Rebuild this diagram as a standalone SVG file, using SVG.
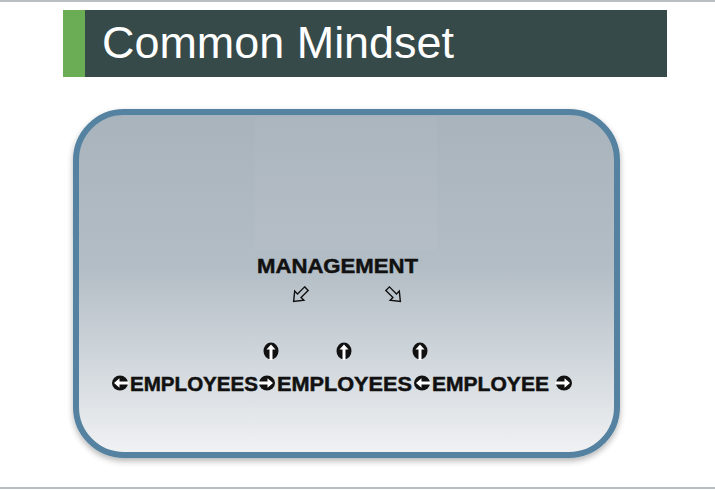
<svg xmlns="http://www.w3.org/2000/svg" width="715" height="490" viewBox="0 0 715 490">
<style>
.t{font-family:"Liberation Sans",Arial,sans-serif;font-weight:bold;fill:#111;stroke:#111;stroke-width:0.5}
.out{fill:none;stroke:#111;stroke-width:1.4;stroke-linejoin:miter}
</style>
<defs>
<linearGradient id="bg" x1="0" y1="0" x2="0" y2="1">
<stop offset="0" stop-color="#a8b3bc"/>
<stop offset="0.45" stop-color="#b3bdc5"/>
<stop offset="0.75" stop-color="#d3d9de"/>
<stop offset="1" stop-color="#f1f2f4"/>
</linearGradient>
<filter id="sh" x="-10%" y="-10%" width="120%" height="125%">
<feGaussianBlur in="SourceAlpha" stdDeviation="3"/>
<feOffset dx="0" dy="3"/>
<feComponentTransfer><feFuncA type="linear" slope="0.3"/></feComponentTransfer>
<feMerge><feMergeNode/><feMergeNode in="SourceGraphic"/></feMerge>
</filter>
<g id="cl">
<ellipse rx="8" ry="7.5" fill="#111"/>
<polygon points="-6,0 -0.5,-4.8 -0.5,-1.6 8.5,-1.6 8.5,1.6 -0.5,1.6 -0.5,4.8" fill="#fff"/>
</g>
<g id="cu">
<ellipse rx="7.5" ry="8.5" fill="#111"/>
<polygon points="0,-6.5 4.5,-1.5 1.5,-1.5 1.5,9 -1.5,9 -1.5,-1.5 -4.5,-1.5" fill="#fff"/>
</g>
<polygon id="da" class="out" points="-2.5,-9 2.5,-9 2.5,1 6.5,1 0,9 -6.5,1 -2.5,1"/>
</defs>
<rect width="715" height="490" fill="#fff"/>
<rect x="0" y="0" width="715" height="2" fill="#b9bec3"/>
<rect x="0" y="487" width="715" height="2" fill="#b9bec3"/>
<g id="title">
<rect x="63" y="10" width="22" height="67" fill="#6aad55"/>
<rect x="85" y="10" width="582" height="67" fill="#364a4a"/>
<text x="102" y="58" font-family="Liberation Sans, Arial, sans-serif" font-size="44" fill="#fff" textLength="352" lengthAdjust="spacingAndGlyphs">Common Mindset</text>
</g>
<g id="panel">
<rect x="76" y="112" width="541" height="343" rx="48" fill="url(#bg)" stroke="#5482a0" stroke-width="6" filter="url(#sh)"/>
<rect x="255" y="117" width="182" height="133" fill="#fff" opacity="0.04"/>
</g>
<g id="management">
<text class="t" x="257" y="273" font-size="21" textLength="161" lengthAdjust="spacingAndGlyphs">MANAGEMENT</text>
</g>
<g id="connectors">
<use href="#da" transform="translate(300,295) rotate(45)"/>
<use href="#da" transform="translate(394,295) rotate(-45)"/>
<use href="#cu" x="271" y="351"/>
<use href="#cu" x="344" y="351"/>
<use href="#cu" x="420" y="351"/>
<use href="#cl" transform="translate(120,383)"/>
<use href="#cl" transform="translate(267,383) scale(-1,1)"/>
<use href="#cl" transform="translate(422,383)"/>
<use href="#cl" transform="translate(564,383) scale(-1,1)"/>
</g>
<g id="employees1"><text class="t" x="130" y="391" font-size="21" textLength="128" lengthAdjust="spacingAndGlyphs">EMPLOYEES</text></g>
<g id="employees2"><text class="t" x="277" y="391" font-size="21" textLength="135" lengthAdjust="spacingAndGlyphs">EMPLOYEES</text></g>
<g id="employee3"><text class="t" x="432" y="391" font-size="21" textLength="117" lengthAdjust="spacingAndGlyphs">EMPLOYEE</text></g>
</svg>
